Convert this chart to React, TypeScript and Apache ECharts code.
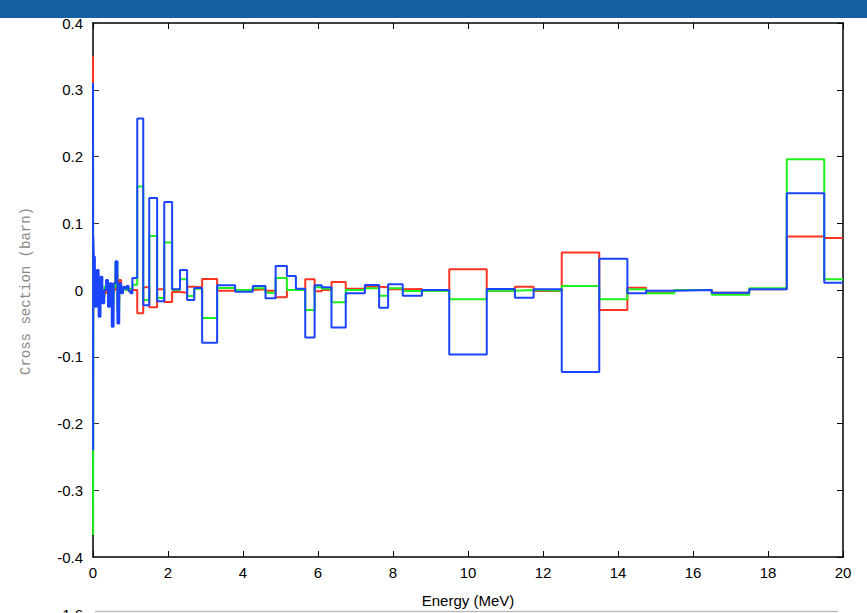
import React, { useEffect, useRef } from "react";
import * as echarts from "echarts";

// Energy group boundaries (MeV)
const edges: number[] = [
  0, 0.004, 0.008, 0.02, 0.05, 0.1, 0.15, 0.2, 0.25, 0.3, 0.35, 0.4, 0.45, 0.5,
  0.55, 0.6, 0.65, 0.7, 0.75, 0.8, 0.85, 0.9, 0.95, 1.0, 1.05, 1.18, 1.34, 1.5,
  1.71, 1.9, 2.11, 2.32, 2.51, 2.7, 2.91, 3.31, 3.79, 4.26, 4.6, 4.87, 5.17,
  5.41, 5.66, 5.91, 6.1, 6.36, 6.74, 7.25, 7.63, 7.87, 8.26, 8.77, 9.5, 10.5,
  11.25, 11.75, 12.5, 13.5, 14.25, 14.75, 15.5, 16.5, 17.5, 18.5, 19.5, 20,
];

// Group values (barn)
const redValues: number[] = [
  0.35, -0.05, 0.01, 0.005, -0.005, 0.0, -0.01, -0.005, -0.012, -0.005, 0.0,
  -0.015, -0.005, -0.005, 0.0, 0.022, -0.015, 0.015, 0.003, 0.002, 0.004, 0.0,
  0.002, 0.0, 0.0, -0.035, 0.004, -0.026, 0.001, -0.018, -0.003, -0.004, 0.005,
  0.004, 0.0165, -0.001, 0.0, 0.001, -0.001, -0.011, 0.0, 0.0, 0.016, -0.002,
  0.0, 0.012, 0.002, 0.005, 0.004, 0.001, 0.0015, 0.0, 0.031, -0.001, 0.005,
  -0.0015, 0.056, -0.03, 0.0035, -0.004, 0.0, -0.004, 0.001, 0.08, 0.078,
];
const greenValues: number[] = [
  0.22, -0.367, 0.02, 0.01, -0.01, 0.01, -0.015, 0.0, -0.01, 0.005, 0.01,
  -0.01, 0.0, -0.02, 0.005, 0.042, -0.03, 0.005, -0.002, 0.002, 0.0, 0.002,
  0.0, 0.002, 0.008, 0.155, -0.015, 0.081, -0.012, 0.071, 0.0, 0.016, -0.009,
  0.002, -0.042, 0.003, 0.0, 0.0025, -0.004, 0.018, 0.0, 0.0, -0.03, 0.004,
  0.002, -0.0185, 0.0, 0.0025, -0.0085, 0.0025, -0.0015, -0.0015, -0.014,
  -0.001, 0.0, -0.001, 0.006, -0.014, 0.001, -0.005, 0.0, -0.007, 0.0025,
  0.196, 0.016,
];
const blueValues: number[] = [
  0.31, -0.24, 0.08, 0.05, -0.025, 0.03, -0.04, 0.02, -0.02, 0.0, 0.015,
  -0.025, 0.01, -0.055, 0.01, 0.043, -0.05, 0.01, -0.005, 0.005, 0.002, 0.006,
  -0.002, -0.005, 0.018, 0.257, -0.023, 0.138, -0.017, 0.132, 0.001, 0.03,
  -0.015, 0.003, -0.079, 0.007, -0.0025, 0.006, -0.0125, 0.036, 0.021, 0.002,
  -0.071, 0.007, 0.004, -0.056, -0.005, 0.0075, -0.0265, 0.0085, -0.0085, 0.0,
  -0.0965, 0.0015, -0.0115, 0.001, -0.123, 0.047, -0.005, -0.001, 0.0, -0.004,
  0.001, 0.145, 0.011,
];

const seriesColors = ["#ff3322", "#1ff01f", "#1a44ff"];

function stepData(vals: number[]): number[][] {
  const out: number[][] = [];
  for (let i = 0; i < vals.length; i++) out.push([edges[i], vals[i]]);
  out.push([edges[vals.length], vals[vals.length - 1]]);
  return out;
}

export default function App() {
  const ref = useRef<HTMLDivElement>(null);
  useEffect(() => {
    if (!ref.current) return;
    const chart = echarts.init(ref.current, null, { renderer: "svg" });
    const tickFont = { fontFamily: "Liberation Sans, Arial, sans-serif", fontSize: 15, color: "#000" };
    const frameLine = { show: true, lineStyle: { color: "#000", width: 1.5 } };
    const xCommon = { type: "value", min: 0, max: 20, interval: 2, splitLine: { show: false } };
    const yCommon = { type: "value", min: -0.4, max: 0.4, interval: 0.1, splitLine: { show: false } };
    chart.setOption({
      animation: false,
      backgroundColor: "#fff",
      grid: { left: 93, right: 24, top: 23, bottom: 56, containLabel: false },
      xAxis: [
        {
          ...xCommon,
          position: "bottom",
          axisLine: { ...frameLine, onZero: false },
          axisTick: { show: true, inside: true, length: 6, lineStyle: { color: "#000" } },
          axisLabel: { ...tickFont, margin: 8 },
        },
        {
          ...xCommon,
          position: "top",
          axisLine: { ...frameLine, onZero: false },
          axisTick: { show: true, inside: true, length: 6, lineStyle: { color: "#000" } },
          axisLabel: { show: false },
        },
      ],
      yAxis: [
        {
          ...yCommon,
          position: "left",
          axisLine: { ...frameLine, onZero: false },
          axisTick: { show: true, inside: true, length: 6, lineStyle: { color: "#333" } },
          axisLabel: {
            ...tickFont,
            margin: 10,
            formatter: (v: number) => String(parseFloat(v.toFixed(1))),
          },
        },
        {
          ...yCommon,
          position: "right",
          axisLine: { ...frameLine, onZero: false },
          axisTick: { show: true, inside: true, length: 6, lineStyle: { color: "#000" } },
          axisLabel: { show: false },
        },
      ],
      series: [redValues, greenValues, blueValues].map((vals, i) => ({
        type: "line",
        step: "end",
        symbol: "none",
        xAxisIndex: 0,
        yAxisIndex: 0,
        data: stepData(vals),
        lineStyle: { color: seriesColors[i], width: 2 },
        itemStyle: { color: seriesColors[i] },
        z: 2 + i,
      })),
      graphic: [
        {
          type: "rect",
          shape: { x: 0, y: 0, width: 867, height: 18 },
          style: { fill: "#165fa1" },
          z: 10,
        },
        {
          type: "text",
          x: 468,
          y: 600,
          style: {
            text: "Energy (MeV)",
            font: "15px Liberation Sans, Arial, sans-serif",
            fill: "#000",
            textAlign: "center",
            textVerticalAlign: "middle",
          },
        },
        {
          type: "text",
          x: 26,
          y: 291,
          rotation: Math.PI / 2,
          style: {
            text: "Cross section (barn)",
            font: "14px Liberation Mono, Courier New, monospace",
            fill: "#888",
            textAlign: "center",
            textVerticalAlign: "middle",
          },
        },
        {
          type: "text",
          x: 83,
          y: 607,
          style: {
            text: "-1.6",
            font: "15px Liberation Sans, Arial, sans-serif",
            fill: "#000",
            textAlign: "right",
            textVerticalAlign: "top",
          },
        },
        {
          type: "line",
          shape: { x1: 95, y1: 611.5, x2: 838, y2: 611.5 },
          style: { stroke: "#bbb", lineWidth: 1.5 },
        },
      ],
    });
    return () => chart.dispose();
  }, []);
  return (
    <div
      ref={ref}
      style={{ position: "fixed", left: 0, top: 0, width: 867, height: 613, background: "#fff" }}
    />
  );
}
